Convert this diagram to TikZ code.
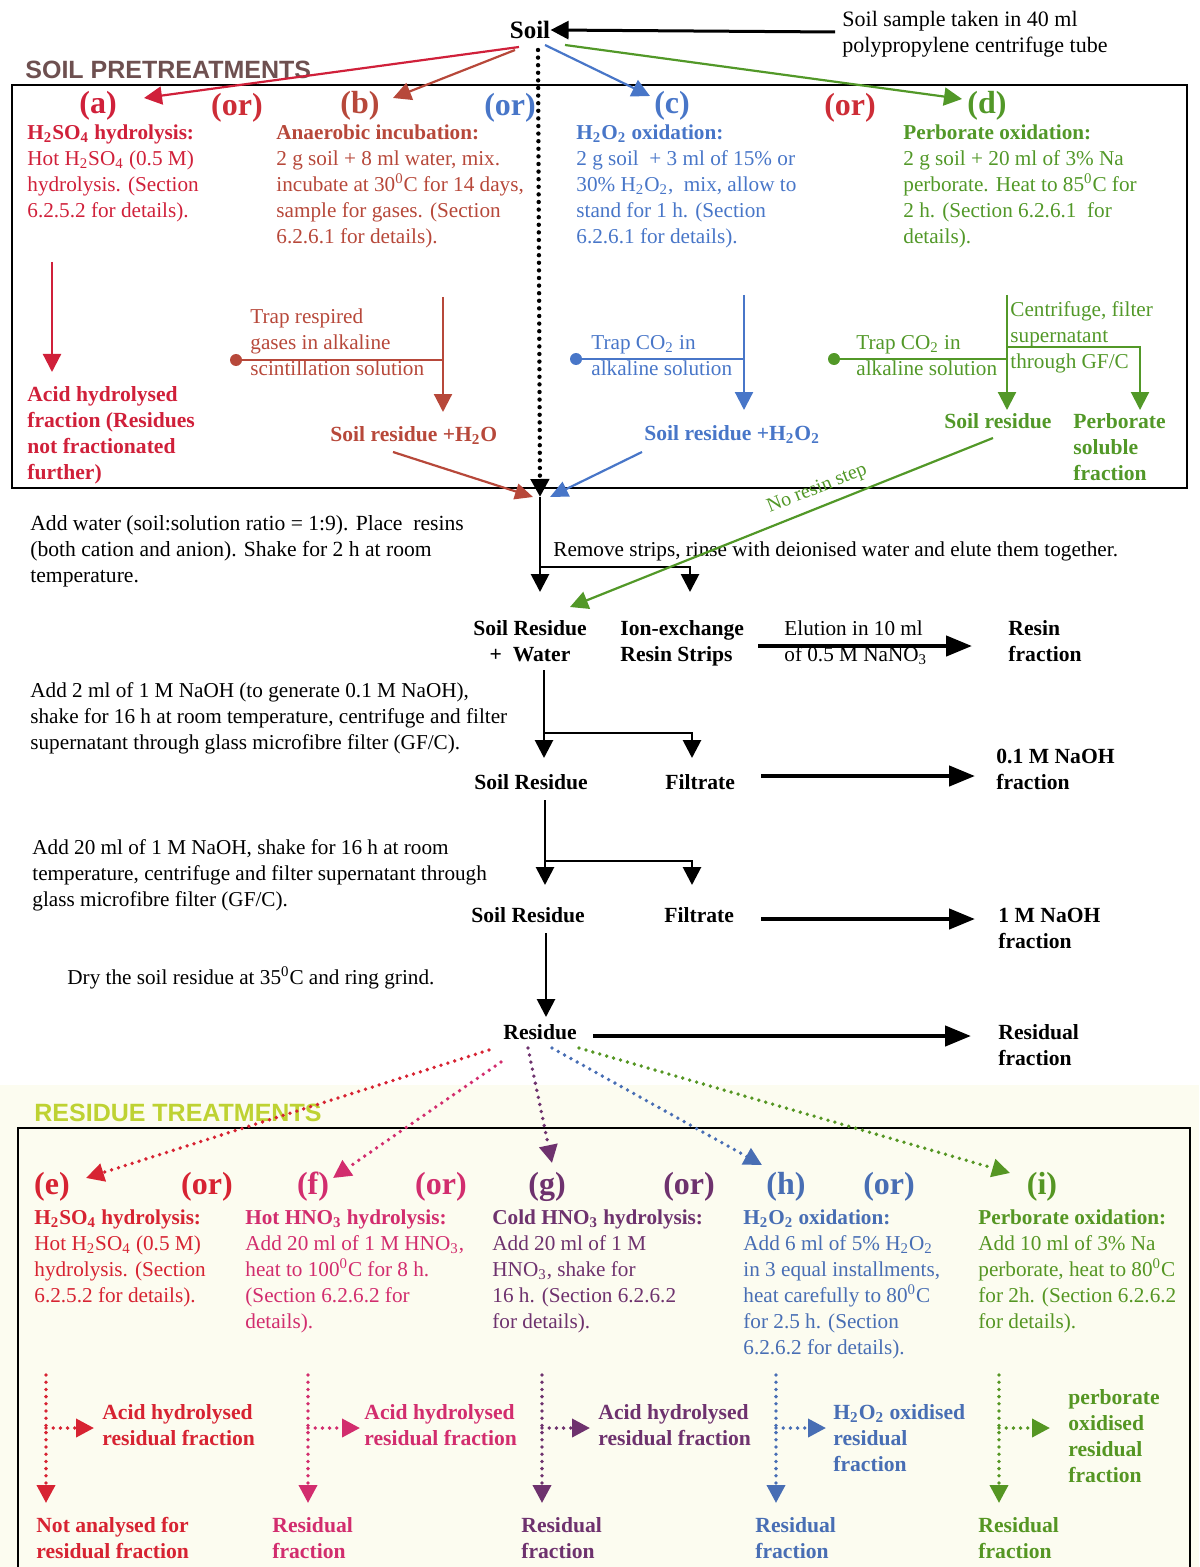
\documentclass[tikz,border=0pt]{standalone}
\usepackage{fontspec}
\setmainfont{Liberation Serif}
\setsansfont{Liberation Sans}
\usetikzlibrary{arrows.meta}
\definecolor{cA}{RGB}{208,32,58}
\definecolor{cB}{RGB}{183,72,58}
\definecolor{cC}{RGB}{72,118,200}
\definecolor{cD}{RGB}{82,152,40}
\definecolor{cOr}{RGB}{205,45,55}
\definecolor{cE}{RGB}{215,35,50}
\definecolor{cF}{RGB}{210,45,110}
\definecolor{cG}{RGB}{110,50,110}
\definecolor{cH}{RGB}{72,110,180}
\definecolor{cI}{RGB}{85,150,35}
\definecolor{cPre}{RGB}{110,80,80}
\definecolor{cRes}{RGB}{190,210,50}
\definecolor{cream}{RGB}{252,252,240}
\newcommand\sbs[1]{\textsubscript{#1}}
\newcommand\dgr{\textsuperscript{0}}
\begin{document}
\begin{tikzpicture}[x=0.5pt,y=-0.5pt,
  body/.style={anchor=north west, inner sep=0pt, align=left, font=\fontsize{10.6}{13}\selectfont},
  bod/.style={anchor=north west, inner sep=0pt, align=left, font=\fontsize{10.8}{13}\selectfont\bfseries},
  bline/.style={anchor=base west, inner sep=0pt, font=\fontsize{10.8}{13}\selectfont\bfseries},
  nline/.style={anchor=base west, inner sep=0pt, font=\fontsize{10.6}{13}\selectfont},
  lab/.style={inner sep=0pt, font=\fontsize{16}{18}\selectfont\bfseries},
  tipS/.style={-{Triangle[length=9pt,width=9pt]}},
  tipB/.style={-{Triangle[length=13pt,width=10pt]}},
  solk/.style={line width=1.4pt, black},
  frac/.style={line width=2.2pt, black, tipB},
  col/.style={line width=1.1pt},
  dotk/.style={line width=2.2pt, dash pattern=on 0pt off 3.8pt, line cap=round},
  dotc/.style={line width=1.9pt, dash pattern=on 0pt off 3.6pt, line cap=round},
  bul/.style={circle, inner sep=0pt, minimum size=6pt}
]
\useasboundingbox (0,0) rectangle (1199,1567);
\fill[cream] (0,1085) rectangle (1199,1567);

% ---------- boxes ----------
\draw[line width=1.2pt] (12,85) rectangle (1187,488);
\draw[line width=1.2pt] (18,1567) -- (18,1128) -- (1190,1128) -- (1190,1567);

% ---------- top ----------
\node[inner sep=0pt, font=\fontsize{12.5}{14}\selectfont\bfseries] (soil) at (530,30) {Soil};
\node[body, font=\fontsize{11}{13}\selectfont] (sample) at (842,{26-18.2}) {\strut Soil sample taken in 40 ml\\polypropylene centrifuge tube};
\coordinate (sampleL) at (835,32);
\draw[line width=1.5pt, tipS] (sampleL) -- (soil.east);
\node[anchor=base west, inner sep=0pt, font=\sffamily\bfseries\fontsize{12.5}{14}\selectfont, text=cPre] (pre) at (25,79) {SOIL PRETREATMENTS};

\node[lab, text=cA] (la) at (98,106) {(a)};
\node[lab, text=cOr] (or1) at (237,108) {(or)};
\node[lab, text=cB] (lb) at (360,106) {(b)};
\node[lab, text=cC] (or2) at (510,108) {(or)};
\node[lab, text=cC] (lc) at (672,106) {(c)};
\node[lab, text=cOr] (or3) at (850,108) {(or)};
\node[lab, text=cD] (ld) at (987,106) {(d)};

\coordinate (sA) at (519,47);
\coordinate (sB) at (515,50);
\coordinate (sC) at (545,45);
\coordinate (sD) at (565,45);
\coordinate (tA) at (144,98);
\coordinate (tB) at (393,98);
\coordinate (tC) at (650,96);
\coordinate (tD) at (962,99);
\draw[col, cA, tipS] (sA) -- (tA);
\draw[col, cB, tipS] (sB) -- (tB);
\draw[col, cC, tipS] (sC) -- (tC);
\draw[col, cD, tipS] (sD) -- (tD);

\node[body, text=cA] (ta) at (27,{139-18.2}) {\strut\textbf{H\sbs{2}SO\sbs{4} hydrolysis:}\\Hot H\sbs{2}SO\sbs{4} (0.5 M)\\hydrolysis. (Section\\6.2.5.2 for details).};
\node[body, text=cB] (tb) at (276,{139-18.2}) {\strut\textbf{Anaerobic incubation:}\\2 g soil + 8 ml water, mix.\\incubate at 30\dgr C for 14 days,\\sample for gases. (Section\\6.2.6.1 for details).};
\node[body, text=cC] (tc) at (576,{139-18.2}) {\strut\textbf{H\sbs{2}O\sbs{2} oxidation:}\\2 g soil \ + 3 ml of 15\% or\\30\% H\sbs{2}O\sbs{2}, \ mix, allow to\\stand for 1 h. (Section\\6.2.6.1 for details).};
\node[body, text=cD] (td) at (903,{139-18.2}) {\strut\textbf{Perborate oxidation:}\\2 g soil + 20 ml of 3\% Na\\perborate. Heat to 85\dgr C for\\2 h. (Section 6.2.6.1 \ for\\details).};

% (a) branch
\coordinate (aTop) at (52,262);
\coordinate (aBot) at (52,372);
\draw[col, cA, tipS] (aTop) -- (aBot);
\node[bod, text=cA] (afr) at (27,{401-18.2}) {\strut Acid hydrolysed\\fraction (Residues\\not fractionated\\further)};

% (b) branch
\node[bul, fill=cB] (bb) at (236,360) {};
\coordinate (bJ) at (443,360);
\coordinate (bTop) at (443,297);
\coordinate (bTip) at (443,412);
\draw[col, cB] (bb.center) -- (bJ);
\draw[col, cB, tipS] (bTop) -- (bTip);
\node[body, text=cB] (btrap) at (250,{323-18.2}) {\strut Trap respired\\gases in alkaline\\scintillation solution};
\node[bline, text=cB] (bres) at (330,441) {Soil residue +H\sbs{2}O};

% (c) branch
\node[bul, fill=cC] (cb) at (576,359) {};
\coordinate (cJ) at (744,359);
\coordinate (cTop) at (744,295);
\coordinate (cTip) at (744,410);
\draw[col, cC] (cb.center) -- (cJ);
\draw[col, cC, tipS] (cTop) -- (cTip);
\node[body, text=cC] (ctrap) at (591,{349-18.2}) {\strut Trap CO\sbs{2} in\\alkaline solution};
\node[bline, text=cC] (cres) at (644,440) {Soil residue +H\sbs{2}O\sbs{2}};

% (d) branch
\node[bul, fill=cD] (db) at (834,359) {};
\coordinate (dJ) at (1007,359);
\coordinate (dTop) at (1007,295);
\coordinate (dTip) at (1007,410);
\coordinate (dK) at (1007,347);
\coordinate (dK2) at (1140,347);
\coordinate (dTip2) at (1140,410);
\draw[col, cD] (db.center) -- (dJ);
\draw[col, cD, tipS] (dTop) -- (dTip);
\draw[col, cD, tipS] (dK) -- (dK2) -- (dTip2);
\node[body, text=cD] (dtrap) at (856,{349-18.2}) {\strut Trap CO\sbs{2} in\\alkaline solution};
\node[body, text=cD] (dcen) at (1010,{316-18.2}) {\strut Centrifuge, filter\\supernatant\\through GF/C};
\node[bline, text=cD] (dres) at (944,428) {Soil residue};
\node[bod, text=cD] (dsol) at (1073,{428-18.2}) {\strut Perborate\\soluble\\fraction};

% convergence
\coordinate (conv) at (540,497);
\coordinate (bFrom) at (393,452);
\coordinate (cFrom) at (642,452);
\coordinate (dFrom) at (993,438);
\coordinate (swTip) at (570,607);
\draw[dotk, tipS] (538,50) -- (conv);
\draw[col, cB, -{Triangle[length=9pt,width=8pt]}] (bFrom) -- (533,497);
\draw[col, cC, -{Triangle[length=9pt,width=8pt]}] (cFrom) -- (550,497);

% ---------- middle ----------
\coordinate (v1e) at (540,592);
\coordinate (v1j) at (540,567);
\coordinate (v1r) at (690,567);
\coordinate (v1re) at (690,592);
\draw[solk, tipS] (conv) -- (v1e);
\draw[solk, tipS] (v1j) -- (v1r) -- (v1re);
\node[body, font=\fontsize{10.8}{13}\selectfont] (addw) at (30,{530-18.2}) {\strut Add water (soil:solution ratio = 1:9). Place \ resins\\(both cation and anion). Shake for 2 h at room\\temperature.};
\node[nline, font=\fontsize{10.6}{13}\selectfont] (remove) at (553,556) {Remove strips, rinse with deionised water and elute them together.};
\draw[col, cD, tipS] (dFrom) -- (swTip) node[pos=0.4, sloped, above, inner sep=4pt, font=\fontsize{10}{12}\selectfont, text=cD] (nores) {No resin step};

\node[bod, anchor=north, align=center] (srw) at (530,{635-18.2}) {\strut Soil Residue\\+ \ Water};
\node[bod] (ion) at (620,{635-18.2}) {\strut Ion-exchange\\Resin Strips};
\node[body, font=\fontsize{10.6}{13}\selectfont] (elu) at (784,{635-18.2}) {\strut Elution in 10 ml\\of 0.5 M NaNO\sbs{3}};
\coordinate (f1s) at (758,646);
\coordinate (f1e) at (972,646);
\draw[frac] (f1s) -- (f1e);
\node[bod] (resin) at (1008,{635-18.2}) {\strut Resin\\fraction};

\node[body, font=\fontsize{10.6}{13}\selectfont] (add2) at (30,{697-18.2}) {\strut Add 2 ml of 1 M NaOH (to generate 0.1 M NaOH),\\shake for 16 h at room temperature, centrifuge and filter\\supernatant through glass microfibre filter (GF/C).};
\coordinate (v2s) at (544,670);
\coordinate (v2e) at (544,758);
\coordinate (v2j) at (544,733);
\coordinate (v2r) at (692,733);
\coordinate (v2re) at (692,758);
\draw[solk, tipS] (v2s) -- (v2e);
\draw[solk, tipS] (v2j) -- (v2r) -- (v2re);
\node[bline] (sr2) at (474,789) {Soil Residue};
\node[bline] (fi2) at (665,789) {Filtrate};
\coordinate (f2s) at (761,776);
\coordinate (f2e) at (975,776);
\draw[frac] (f2s) -- (f2e);
\node[bod] (naoh1) at (996,{763-18.2}) {\strut 0.1 M NaOH\\fraction};

\node[body, font=\fontsize{10.6}{13}\selectfont] (add3) at (32,{854-18.2}) {\strut Add 20 ml of 1 M NaOH, shake for 16 h at room\\temperature, centrifuge and filter supernatant through\\glass microfibre filter (GF/C).};
\coordinate (v3s) at (545,800);
\coordinate (v3e) at (545,885);
\coordinate (v3j) at (545,861);
\coordinate (v3r) at (692,861);
\coordinate (v3re) at (692,885);
\draw[solk, tipS] (v3s) -- (v3e);
\draw[solk, tipS] (v3j) -- (v3r) -- (v3re);
\node[bline] (sr3) at (471,922) {Soil Residue};
\node[bline] (fi3) at (664,922) {Filtrate};
\coordinate (f3s) at (761,919);
\coordinate (f3e) at (975,919);
\draw[frac] (f3s) -- (f3e);
\node[bod] (naoh2) at (998,{922-18.2}) {\strut 1 M NaOH\\fraction};

\coordinate (v4s) at (546,933);
\coordinate (v4e) at (546,1017);
\draw[solk, tipS] (v4s) -- (v4e);
\node[nline, font=\fontsize{10.6}{13}\selectfont] (dry) at (67,984) {Dry the soil residue at 35\dgr C and ring grind.};
\node[bline] (resid) at (503,1039) {Residue};
\coordinate (f4s) at (593,1036);
\coordinate (f4e) at (971,1036);
\draw[frac] (f4s) -- (f4e);
\node[bod] (resfr) at (998,{1039-18.2}) {\strut Residual\\fraction};

\node[anchor=base west, inner sep=0pt, font=\sffamily\bfseries\fontsize{12.5}{14}\selectfont, text=cRes] (rtr) at (34,1121) {RESIDUE TREATMENTS};

% ---------- residue treatments ----------
\draw[dotc, cE, tipS] (489,1050) -- (86,1178);
\draw[dotc, cF, tipS] (501,1062) -- (333,1178);
\draw[dotc, cG, tipS] (528,1048) -- (552,1163);
\draw[dotc, cH, tipS] (552,1048) -- (762,1165);
\draw[dotc, cI, tipS] (579,1048) -- (1010,1173);

\node[lab, text=cE] (le) at (52,1187) {(e)};
\node[lab, text=cE] (or4) at (207,1187) {(or)};
\node[lab, text=cF] (lf) at (313,1187) {(f)};
\node[lab, text=cF] (or5) at (441,1187) {(or)};
\node[lab, text=cG] (lg) at (547,1187) {(g)};
\node[lab, text=cG] (or6) at (689,1187) {(or)};
\node[lab, text=cH] (lh) at (786,1187) {(h)};
\node[lab, text=cH] (or7) at (889,1187) {(or)};
\node[lab, text=cI] (li) at (1042,1187) {(i)};

\node[body, text=cE] (te) at (34,{1224-18.2}) {\strut\textbf{H\sbs{2}SO\sbs{4} hydrolysis:}\\Hot H\sbs{2}SO\sbs{4} (0.5 M)\\hydrolysis. (Section\\6.2.5.2 for details).};
\node[body, text=cF] (tf) at (245,{1224-18.2}) {\strut\textbf{Hot HNO\sbs{3} hydrolysis:}\\Add 20 ml of 1 M HNO\sbs{3},\\heat to 100\dgr C for 8 h.\\(Section 6.2.6.2 for\\details).};
\node[body, text=cG] (tg) at (492,{1224-18.2}) {\strut\textbf{Cold HNO\sbs{3} hydrolysis:}\\Add 20 ml of 1 M\\HNO\sbs{3}, shake for\\16 h. (Section 6.2.6.2\\for details).};
\node[body, text=cH] (th) at (743,{1224-18.2}) {\strut\textbf{H\sbs{2}O\sbs{2} oxidation:}\\Add 6 ml of 5\% H\sbs{2}O\sbs{2}\\in 3 equal installments,\\heat carefully to 80\dgr C\\for 2.5 h. (Section\\6.2.6.2 for details).};
\node[body, text=cI] (ti) at (978,{1224-18.2}) {\strut\textbf{Perborate oxidation:}\\Add 10 ml of 3\% Na\\perborate, heat to 80\dgr C\\for 2h. (Section 6.2.6.2\\for details).};

% bottom branches
\foreach \xx/\xt/\cc in {46/94/cE, 308/360/cF, 542/590/cG, 776/826/cH, 999/1050/cI}{
  \coordinate (bt\cc) at (\xx,1375);
  \coordinate (bb\cc) at (\xx,1503);
  \coordinate (bj\cc) at (\xx,1428);
  \coordinate (br\cc) at (\xt,1428);
  \draw[dotc, \cc, tipS] (bt\cc) -- (bb\cc);
  \draw[dotc, \cc, tipS] (bj\cc) -- (br\cc);
}
\node[bod, text=cE] (ahe) at (102,{1419-18.2}) {\strut Acid hydrolysed\\residual fraction};
\node[bod, text=cF] (ahf) at (364,{1419-18.2}) {\strut Acid hydrolysed\\residual fraction};
\node[bod, text=cG] (ahg) at (598,{1419-18.2}) {\strut Acid hydrolysed\\residual fraction};
\node[bod, text=cH] (ohh) at (833,{1419-18.2}) {\strut H\sbs{2}O\sbs{2} oxidised\\residual\\fraction};
\node[bod, text=cI] (ohi) at (1068,{1404-18.2}) {\strut perborate\\oxidised\\residual\\fraction};

\node[bod, text=cE] (rfe) at (36,{1532-18.2}) {\strut Not analysed for\\residual fraction};
\node[bod, text=cF] (rff) at (272,{1532-18.2}) {\strut Residual\\fraction};
\node[bod, text=cG] (rfg) at (521,{1532-18.2}) {\strut Residual\\fraction};
\node[bod, text=cH] (rfh) at (755,{1532-18.2}) {\strut Residual\\fraction};
\node[bod, text=cI] (rfi) at (978,{1532-18.2}) {\strut Residual\\fraction};
\end{tikzpicture}
\end{document}
